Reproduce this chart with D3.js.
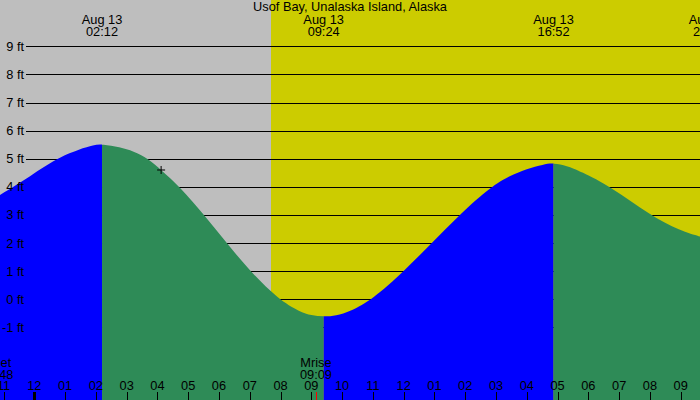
<!DOCTYPE html>
<html>
<head>
<meta charset="utf-8">
<script src="https://cdn.jsdelivr.net/npm/d3@7"></script>
<style>
  body { margin: 0; background: #fff; }
  svg text { font-family: "Liberation Sans", Arial, sans-serif; font-size: 12.8px; fill: #000; }
</style>
</head>
<body>
<svg width="700" height="400"></svg>
<script>
// hours counted from midnight, Aug 13
var tideHours = [-1.2, -0.46, 0.67, 1.49, 1.93, 2.2, 2.78, 3.22, 3.7, 4.12, 4.73, 5.52, 6.25, 7.01, 7.93,
  8.63, 9.0, 9.4, 9.8, 10.26, 10.99, 12.01, 12.91, 13.83, 14.83, 15.46, 16.0, 16.54, 16.87, 17.3, 17.73,
  18.74, 20.0, 20.98, 21.7];
var tideFeet = [3.66, 4.13, 5.0, 5.35, 5.49, 5.52, 5.41, 5.27, 5.0, 4.6, 4.0, 3.0, 2.0, 1.0, 0.0,
  -0.45, -0.57, -0.62, -0.58, -0.44, 0.0, 1.0, 2.0, 3.03, 4.0, 4.4, 4.64, 4.8, 4.85, 4.75, 4.56,
  4.0, 3.0, 2.43, 2.21];

// high / low extremes
var extremeHours = [2.2, 9.4, 16.87, 21.92];
var extremeTimes = ["02:12", "09:24", "16:52", "21:55"];
var extremeDay = "Aug 13";

// moon events
var moonNames = ["Mset", "Mrise"];
var moonTimes = ["22:48", "09:09"];
var moonHours = [-1.2, 9.15];

var sunrise = 7.69, sunset = 22.5;
var feetTicks = [-1, 0, 1, 2, 3, 4, 5, 6, 7, 8, 9];
var hourTicks = d3.range(-1, 22);
var title = "Usof Bay, Unalaska Island, Alaska";
var nowHour = 4.12, nowFeet = 4.6;

var svg = d3.select("svg"),
  width = 700,
  height = 400;

var x = d3.scaleLinear().domain([0, 21]).range([34.3, 680.7]);
var y = d3.scaleLinear().domain([0, 9]).range([299.3, 46.3]);

// night / day background
svg.append("rect").attr("width", width).attr("height", height).attr("fill", "#bebebe");
svg.append("rect")
  .attr("x", x(sunrise)).attr("y", 0)
  .attr("width", x(sunset) - x(sunrise)).attr("height", height)
  .attr("fill", "#cccc00");

// grid lines
svg.selectAll("line.grid")
  .data(feetTicks)
  .enter()
  .append("line")
  .attr("class", "grid")
  .attr("x1", 26).attr("x2", width)
  .attr("y1", function (d) { return Math.round(y(d)) + 0.5; })
  .attr("y2", function (d) { return Math.round(y(d)) + 0.5; })
  .attr("stroke", "#000").attr("stroke-width", 1);

// tide area, split into rising (blue) and falling (green) pieces
var tide = tideHours.map(function (h, i) { return [h, tideFeet[i]]; });
var area = d3.area()
  .x(function (d) { return x(d[0]); })
  .y0(height)
  .y1(function (d) { return y(d[1]); })
  .curve(d3.curveBasis);

var bounds = [-2].concat(extremeHours);
var defs = svg.append("defs");
for (var i = 0; i < bounds.length; i++) {
  var a = bounds[i], b = i + 1 < bounds.length ? bounds[i + 1] : 24;
  var rising = i % 2 === 0;
  defs.append("clipPath").attr("id", "seg" + i)
    .append("rect")
    .attr("x", x(a)).attr("y", 0)
    .attr("width", x(b) - x(a)).attr("height", height);
  svg.append("path")
    .datum(tide)
    .attr("d", area)
    .attr("clip-path", "url(#seg" + i + ")")
    .attr("fill", rising ? "#0000ff" : "#2e8b57");
}

// feet labels
svg.selectAll("text.ft")
  .data(feetTicks)
  .enter()
  .append("text")
  .attr("class", "ft")
  .attr("x", 24)
  .attr("y", function (d) { return y(d) + 4.5; })
  .attr("text-anchor", "end")
  .text(function (d) { return d + " ft"; });

// title
svg.append("text").attr("x", 350).attr("y", 11).attr("text-anchor", "middle").text(title);

// extreme labels on top
var ext = svg.selectAll("g.ext")
  .data(extremeHours)
  .enter()
  .append("g")
  .attr("class", "ext");
ext.append("text")
  .attr("x", function (d) { return x(d); })
  .attr("y", 24)
  .attr("text-anchor", "middle")
  .text(extremeDay);
ext.append("text")
  .attr("x", function (d) { return x(d); })
  .attr("y", 36)
  .attr("text-anchor", "middle")
  .text(function (d, i) { return extremeTimes[i]; });

// hour ticks
svg.selectAll("line.tick")
  .data(hourTicks)
  .enter()
  .append("line")
  .attr("class", "tick")
  .attr("x1", function (d) { return Math.round(x(d)) + 0.5; })
  .attr("x2", function (d) { return Math.round(x(d)) + 0.5; })
  .attr("y1", 392).attr("y2", height)
  .attr("stroke", "#000")
  .attr("stroke-width", function (d) { return d % 24 === 0 ? 3 : 1; });

svg.selectAll("text.hour")
  .data(hourTicks)
  .enter()
  .append("text")
  .attr("class", "hour")
  .attr("x", function (d) { return x(d); })
  .attr("y", 390)
  .attr("text-anchor", "middle")
  .text(function (d) {
    var h = ((d % 12) + 12) % 12 || 12;
    return (h < 10 ? "0" : "") + h;
  });

// moon rise / set
moonHours.forEach(function (h, i) {
  svg.append("line")
    .attr("x1", Math.round(x(h)) + 0.5).attr("x2", Math.round(x(h)) + 0.5)
    .attr("y1", 392).attr("y2", height)
    .attr("stroke", "#ff0000");
  svg.append("text").attr("x", x(h)).attr("y", 367).attr("text-anchor", "middle").text(moonNames[i]);
  svg.append("text").attr("x", x(h)).attr("y", 379).attr("text-anchor", "middle").text(moonTimes[i]);
});

// current time marker
svg.append("path")
  .attr("d", "M" + (x(nowHour) - 4) + "," + y(nowFeet) + "h8M" + x(nowHour) + "," + (y(nowFeet) - 4) + "v8")
  .attr("stroke", "#000").attr("fill", "none");
</script>
</body>
</html>
